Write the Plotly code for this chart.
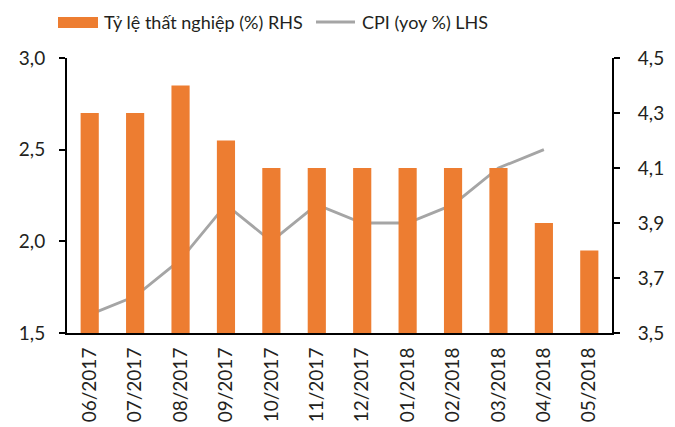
import plotly.graph_objects as go

months = ["06/2017", "07/2017", "08/2017", "09/2017", "10/2017", "11/2017",
          "12/2017", "01/2018", "02/2018", "03/2018", "04/2018", "05/2018"]
unemployment_rhs = [4.3, 4.3, 4.4, 4.2, 4.1, 4.1, 4.1, 4.1, 4.1, 4.1, 3.9, 3.8]
cpi_lhs = [1.6, 1.7, 1.9, 2.2, 2.0, 2.2, 2.1, 2.1, 2.2, 2.4, 2.5, None]

left_ticks = [1.5, 2.0, 2.5, 3.0]
right_ticks = [3.5, 3.7, 3.9, 4.1, 4.3, 4.5]

bar_name = "Tỷ lệ thất nghiệp (%) RHS"
line_name = "CPI (yoy %) LHS"

ORANGE = "#ED7D31"
GREY = "#A5A5A5"
FONT = "Lato, sans-serif"

fig = go.Figure()
fig.add_trace(go.Bar(x=months, y=unemployment_rhs, name=bar_name, yaxis="y2",
                     marker=dict(color=ORANGE, line=dict(width=0)), width=0.4))
fig.add_trace(go.Scatter(x=months, y=cpi_lhs, name=line_name, yaxis="y",
                         mode="lines", line=dict(color=GREY, width=2.8)))

W, H = 675, 427
ml, mr, mt, mb = 67, 63, 58, 94
pw, ph = W - ml - mr, H - mt - mb


def px(x):
    return (x - ml) / pw


def py(y):
    return (H - mb - y) / ph


fig.update_layout(
    width=W, height=H,
    margin=dict(l=ml, r=mr, t=mt, b=mb, pad=0, autoexpand=False),
    paper_bgcolor="white", plot_bgcolor="white",
    separators=",.",
    showlegend=False,
    font=dict(family=FONT, size=19, color="#231F20"),
    xaxis=dict(type="category", tickangle=-90, showline=True, linecolor="black",
               linewidth=2, ticks="", showgrid=False, zeroline=False,
               tickfont=dict(size=19), ticklabelstandoff=5, automargin=False),
    yaxis=dict(range=[1.5, 3.0], tickvals=left_ticks, tickformat=".1f",
               showline=True, linecolor="black", linewidth=2, ticks="outside",
               ticklen=6, tickwidth=2, tickcolor="black", showgrid=False,
               zeroline=False, ticklabelstandoff=10, automargin=False),
    yaxis2=dict(range=[3.5, 4.5], tickvals=right_ticks, tickformat=".1f",
                overlaying="y", side="right", showline=True, linecolor="black",
                linewidth=2, ticks="outside", ticklen=6, tickwidth=2,
                tickcolor="black", showgrid=False, zeroline=False,
                ticklabelstandoff=14, automargin=False),
)

# manual legend
fig.add_shape(type="rect", xref="paper", yref="paper",
              x0=px(58), x1=px(98), y0=py(28), y1=py(17),
              fillcolor=ORANGE, line=dict(width=0))
fig.add_shape(type="line", xref="paper", yref="paper",
              x0=px(316), x1=px(355), y0=py(22), y1=py(22),
              line=dict(color=GREY, width=2.8))
fig.add_annotation(text=bar_name, xref="paper", yref="paper", x=px(102), y=py(22),
                   xanchor="left", yanchor="middle", showarrow=False,
                   font=dict(size=18))
fig.add_annotation(text=line_name, xref="paper", yref="paper", x=px(360), y=py(22),
                   xanchor="left", yanchor="middle", showarrow=False,
                   font=dict(size=18))

fig.write_html("out.html", config={"displayModeBar": False},
               post_script="document.body.style.margin='0';document.body.style.padding='0';")
